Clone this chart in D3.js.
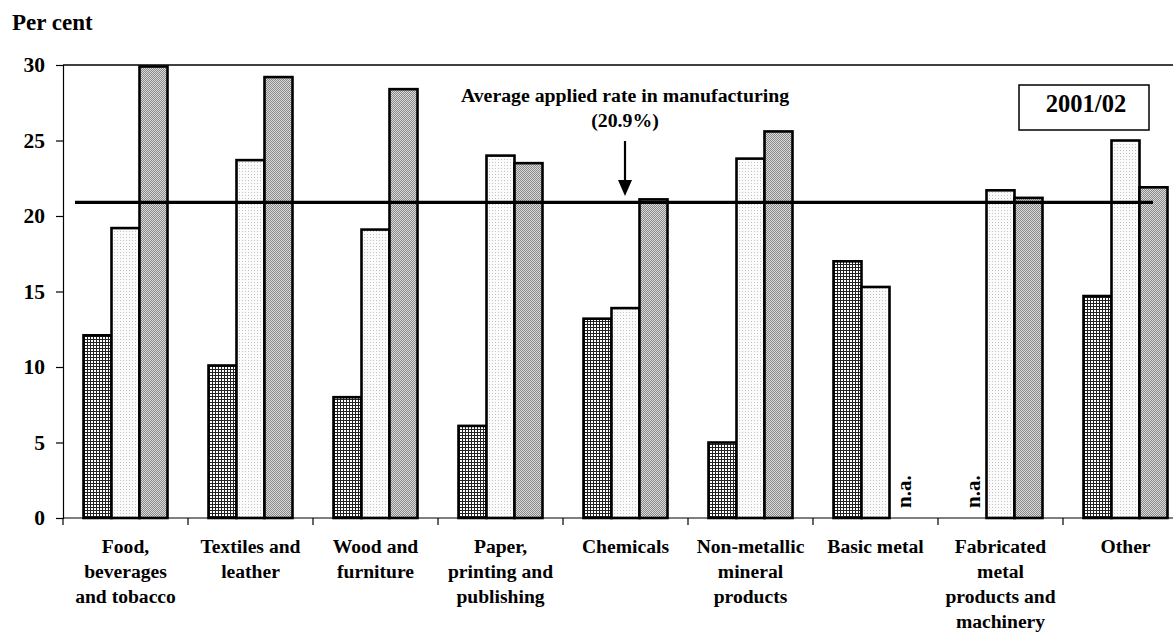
<!DOCTYPE html>
<html>
<head>
<meta charset="utf-8">
<script src="https://cdn.jsdelivr.net/npm/d3@7"></script>
<style>
  html, body { margin: 0; padding: 0; background: #fff; }
  svg { display: block; }
  text { font-family: "Liberation Serif", "Times New Roman", serif; font-weight: bold; fill: #000; }
</style>
</head>
<body>
<svg id="chart" width="1173" height="633"></svg>
<script>
// Sector names (one line per array entry)
const categories = [
  ["Food,", "beverages", "and tobacco"],
  ["Textiles and", "leather"],
  ["Wood and", "furniture"],
  ["Paper,", "printing and", "publishing"],
  ["Chemicals"],
  ["Non-metallic", "mineral", "products"],
  ["Basic metal"],
  ["Fabricated", "metal", "products and", "machinery"],
  ["Other"]
];
// Applied tariff rates (per cent) by series; null = not available
const series1 = [12.1, 10.1, 8.0, 6.1, 13.2, 5.0, 17.0, null, 14.7];
const series2 = [19.2, 23.7, 19.1, 24.0, 13.9, 23.8, 15.3, 21.7, 25.0];
const series3 = [29.9, 29.2, 28.4, 23.5, 21.1, 25.6, null, 21.2, 21.9];
const yTicks = [0, 5, 10, 15, 20, 25, 30];
const averageRate = 20.9;
const yearLabel = "2001/02";

const svg = d3.select("#chart");
const defs = svg.append("defs");

// Fill patterns for the three series
const p1 = defs.append("pattern").attr("id", "grid").attr("patternUnits", "userSpaceOnUse")
  .attr("width", 3).attr("height", 3);
p1.append("rect").attr("width", 3).attr("height", 3).attr("fill", "#fff");
p1.append("rect").attr("width", 3).attr("height", 1).attr("fill", "#222");
p1.append("rect").attr("width", 1).attr("height", 3).attr("fill", "#222");

const p2 = defs.append("pattern").attr("id", "dots").attr("patternUnits", "userSpaceOnUse")
  .attr("width", 3).attr("height", 3);
p2.append("rect").attr("width", 3).attr("height", 3).attr("fill", "#fbfbfb");
p2.append("rect").attr("width", 1).attr("height", 1).attr("fill", "#c4c4c4");

const p3 = defs.append("pattern").attr("id", "checker").attr("patternUnits", "userSpaceOnUse")
  .attr("width", 2).attr("height", 2);
p3.append("rect").attr("width", 2).attr("height", 2).attr("fill", "#d9d9d9");
p3.append("rect").attr("width", 1).attr("height", 1).attr("fill", "#8a8a8a");
p3.append("rect").attr("x", 1).attr("y", 1).attr("width", 1).attr("height", 1).attr("fill", "#8a8a8a");

const fills = ["url(#grid)", "url(#dots)", "url(#checker)"];
const allSeries = [series1, series2, series3];

const left = 63, bandW = 125;
const x = d3.scaleBand().domain(d3.range(categories.length))
  .range([left, left + bandW * categories.length]).padding(0);
const xs = d3.scaleBand().domain([0, 1, 2]).range([20.5, bandW - 20.5]).padding(0);
const y = d3.scaleLinear().domain([0, 30]).range([518, 65]);
const right = left + bandW * categories.length;

// Plot frame top edge
svg.append("line").attr("x1", left).attr("x2", right)
  .attr("y1", y(30)).attr("y2", y(30)).attr("stroke", "#000").attr("stroke-width", 1.5);

// Bars
const groups = svg.append("g").selectAll("g").data(categories).join("g")
  .attr("transform", (d, i) => `translate(${x(i)},0)`);
groups.each(function (c, i) {
  const g = d3.select(this);
  allSeries.forEach((s, k) => {
    const v = s[i];
    if (v === null) {
      g.append("text")
        .attr("transform", `translate(${xs(k) + xs.bandwidth() / 2 + 7},${y(0) - 10}) rotate(-90)`)
        .attr("font-size", 21).text("n.a.");
    } else {
      g.append("rect")
        .attr("x", xs(k)).attr("width", xs.bandwidth())
        .attr("y", y(v)).attr("height", y(0) - y(v))
        .attr("fill", fills[k]).attr("stroke", "#000").attr("stroke-width", 2.6);
    }
  });
});

// Y axis
const yAxis = d3.axisLeft(y).tickValues(yTicks).tickSize(7).tickPadding(11).tickFormat(d3.format("d"));
const ya = svg.append("g").attr("transform", `translate(${left},0)`).call(yAxis);
ya.select(".domain").attr("stroke", "#000").attr("stroke-width", 1.2);
ya.selectAll(".tick line").attr("stroke", "#000").attr("stroke-width", 1.2);
ya.selectAll(".tick text").attr("font-size", 21.5).attr("font-family", "Liberation Serif").attr("font-weight", "bold").attr("fill", "#000");

// X axis with ticks on band boundaries
svg.append("line").attr("x1", left).attr("x2", right).attr("y1", y(0)).attr("y2", y(0))
  .attr("stroke", "#000").attr("stroke-width", 1.2);
svg.append("g").selectAll("line").data(d3.range(categories.length)).join("line")
  .attr("x1", i => x(i)).attr("x2", i => x(i))
  .attr("y1", y(0)).attr("y2", y(0) + 7)
  .attr("stroke", "#000").attr("stroke-width", 1.2);

// Category labels
const lab = svg.append("g").selectAll("text").data(categories).join("text")
  .attr("text-anchor", "middle").attr("font-size", 19.6)
  .attr("transform", (d, i) => `translate(${x(i) + bandW / 2},553)`);
lab.selectAll("tspan").data(d => d).join("tspan")
  .attr("x", 0).attr("dy", (d, j) => j === 0 ? 0 : 25).text(d => d);

// Average rate line
svg.append("line").attr("x1", 75).attr("x2", 1153)
  .attr("y1", y(averageRate)).attr("y2", y(averageRate))
  .attr("stroke", "#000").attr("stroke-width", 3.2);

// Annotation with arrow
svg.append("text").attr("x", 625).attr("y", 102).attr("text-anchor", "middle")
  .attr("font-size", 19.8).text("Average applied rate in manufacturing");
svg.append("text").attr("x", 625).attr("y", 127).attr("text-anchor", "middle")
  .attr("font-size", 19.8).text(`(${averageRate}%)`);
svg.append("line").attr("x1", 625).attr("x2", 625).attr("y1", 141).attr("y2", 182)
  .attr("stroke", "#000").attr("stroke-width", 2.2);
svg.append("path").attr("d", "M618,180 L632,180 L625,196 Z").attr("fill", "#000");

// Year box
svg.append("rect").attr("x", 1019).attr("y", 85).attr("width", 130).attr("height", 45)
  .attr("fill", "#fff").attr("stroke", "#000").attr("stroke-width", 1.5);
svg.append("text").attr("x", 1086).attr("y", 112).attr("text-anchor", "middle")
  .attr("font-size", 24.5).text(yearLabel);

// Axis title
svg.append("text").attr("x", 12).attr("y", 30).attr("font-size", 23).text("Per cent");
</script>
</body>
</html>
